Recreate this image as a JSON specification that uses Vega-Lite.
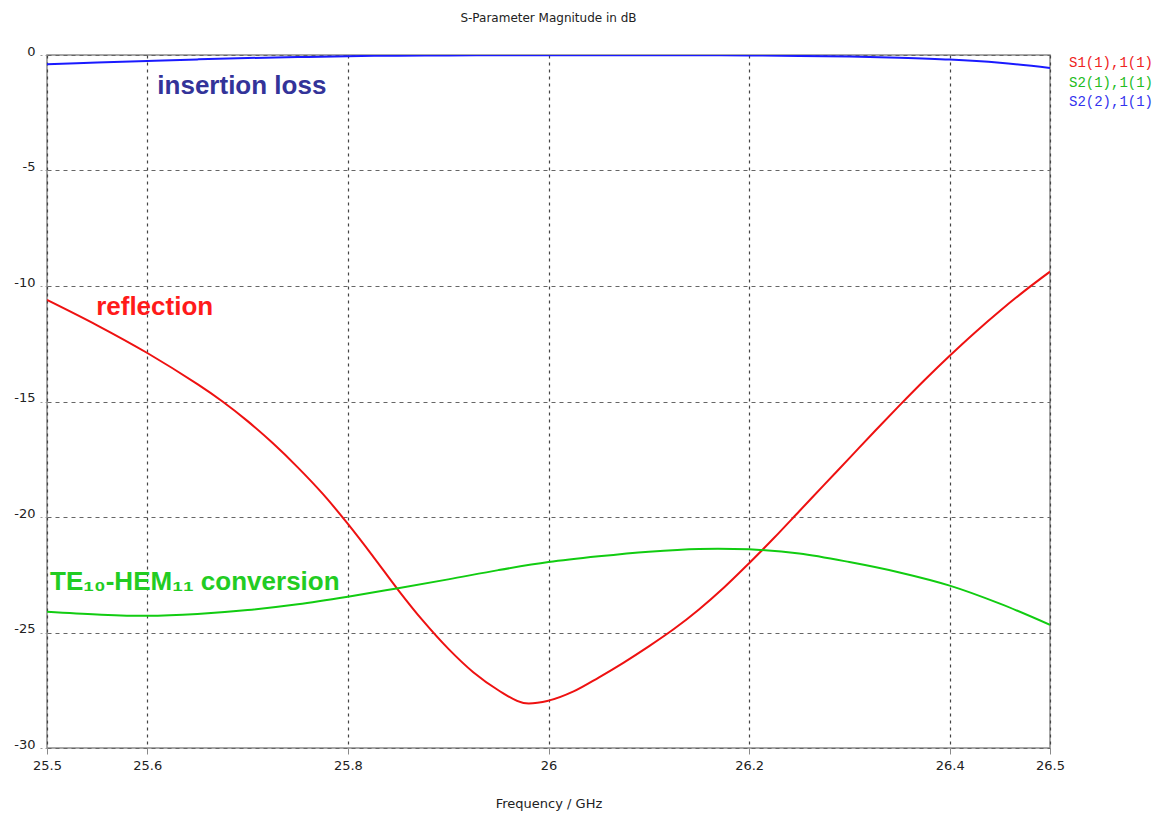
{
  "$schema": "https://vega.github.io/schema/vega-lite/v6.json",
  "autosize": "none",
  "width": 1003,
  "height": 693,
  "padding": {"left": 47, "top": 55, "right": 110, "bottom": 69},
  "background": "#ffffff",
  "title": {
    "text": "S-Parameter Magnitude in dB",
    "font": "DejaVu Sans",
    "fontSize": 12,
    "fontWeight": "normal",
    "color": "#222222",
    "anchor": "middle",
    "offset": 20
  },
  "config": {
    "view": {"stroke": "#8a8a8a", "strokeWidth": 1.5},
    "font": "DejaVu Sans"
  },
  "datasets": {
    "curves": [
      {"series": "S1(1),1(1)", "f": 25.5, "db": -10.6},
      {"series": "S1(1),1(1)", "f": 25.55, "db": -11.7},
      {"series": "S1(1),1(1)", "f": 25.6, "db": -12.9},
      {"series": "S1(1),1(1)", "f": 25.65, "db": -14.25},
      {"series": "S1(1),1(1)", "f": 25.675, "db": -15.0},
      {"series": "S1(1),1(1)", "f": 25.7, "db": -15.85},
      {"series": "S1(1),1(1)", "f": 25.725, "db": -16.8},
      {"series": "S1(1),1(1)", "f": 25.75, "db": -17.85},
      {"series": "S1(1),1(1)", "f": 25.775, "db": -19.0},
      {"series": "S1(1),1(1)", "f": 25.8, "db": -20.3},
      {"series": "S1(1),1(1)", "f": 25.825, "db": -21.7},
      {"series": "S1(1),1(1)", "f": 25.85, "db": -23.15},
      {"series": "S1(1),1(1)", "f": 25.875, "db": -24.5},
      {"series": "S1(1),1(1)", "f": 25.9, "db": -25.7},
      {"series": "S1(1),1(1)", "f": 25.925, "db": -26.72},
      {"series": "S1(1),1(1)", "f": 25.95, "db": -27.5},
      {"series": "S1(1),1(1)", "f": 25.975, "db": -28.05},
      {"series": "S1(1),1(1)", "f": 26.0, "db": -27.95},
      {"series": "S1(1),1(1)", "f": 26.025, "db": -27.55},
      {"series": "S1(1),1(1)", "f": 26.05, "db": -26.95},
      {"series": "S1(1),1(1)", "f": 26.075, "db": -26.3},
      {"series": "S1(1),1(1)", "f": 26.1, "db": -25.6},
      {"series": "S1(1),1(1)", "f": 26.125, "db": -24.85},
      {"series": "S1(1),1(1)", "f": 26.15, "db": -24.0},
      {"series": "S1(1),1(1)", "f": 26.175, "db": -23.05},
      {"series": "S1(1),1(1)", "f": 26.2, "db": -22.0},
      {"series": "S1(1),1(1)", "f": 26.225, "db": -20.9},
      {"series": "S1(1),1(1)", "f": 26.25, "db": -19.75},
      {"series": "S1(1),1(1)", "f": 26.275, "db": -18.6},
      {"series": "S1(1),1(1)", "f": 26.3, "db": -17.45},
      {"series": "S1(1),1(1)", "f": 26.325, "db": -16.3},
      {"series": "S1(1),1(1)", "f": 26.35, "db": -15.17},
      {"series": "S1(1),1(1)", "f": 26.375, "db": -14.07},
      {"series": "S1(1),1(1)", "f": 26.4, "db": -13.02},
      {"series": "S1(1),1(1)", "f": 26.425, "db": -12.02},
      {"series": "S1(1),1(1)", "f": 26.45, "db": -11.08},
      {"series": "S1(1),1(1)", "f": 26.475, "db": -10.2},
      {"series": "S1(1),1(1)", "f": 26.5, "db": -9.38},

      {"series": "S2(1),1(1)", "f": 25.5, "db": -24.1},
      {"series": "S2(1),1(1)", "f": 25.55, "db": -24.22},
      {"series": "S2(1),1(1)", "f": 25.6, "db": -24.28},
      {"series": "S2(1),1(1)", "f": 25.65, "db": -24.2},
      {"series": "S2(1),1(1)", "f": 25.7, "db": -24.03},
      {"series": "S2(1),1(1)", "f": 25.75, "db": -23.78},
      {"series": "S2(1),1(1)", "f": 25.8, "db": -23.45},
      {"series": "S2(1),1(1)", "f": 25.85, "db": -23.08},
      {"series": "S2(1),1(1)", "f": 25.9, "db": -22.7},
      {"series": "S2(1),1(1)", "f": 25.95, "db": -22.3},
      {"series": "S2(1),1(1)", "f": 26.0, "db": -21.95},
      {"series": "S2(1),1(1)", "f": 26.05, "db": -21.7},
      {"series": "S2(1),1(1)", "f": 26.1, "db": -21.5},
      {"series": "S2(1),1(1)", "f": 26.15, "db": -21.38},
      {"series": "S2(1),1(1)", "f": 26.2, "db": -21.4},
      {"series": "S2(1),1(1)", "f": 26.25, "db": -21.58},
      {"series": "S2(1),1(1)", "f": 26.3, "db": -21.95},
      {"series": "S2(1),1(1)", "f": 26.35, "db": -22.4},
      {"series": "S2(1),1(1)", "f": 26.4, "db": -22.97},
      {"series": "S2(1),1(1)", "f": 26.45, "db": -23.75},
      {"series": "S2(1),1(1)", "f": 26.5, "db": -24.67},

      {"series": "S2(2),1(1)", "f": 25.5, "db": -0.4},
      {"series": "S2(2),1(1)", "f": 25.55, "db": -0.33},
      {"series": "S2(2),1(1)", "f": 25.6, "db": -0.26},
      {"series": "S2(2),1(1)", "f": 25.65, "db": -0.19},
      {"series": "S2(2),1(1)", "f": 25.7, "db": -0.13},
      {"series": "S2(2),1(1)", "f": 25.75, "db": -0.09},
      {"series": "S2(2),1(1)", "f": 25.8, "db": -0.05},
      {"series": "S2(2),1(1)", "f": 25.85, "db": -0.03},
      {"series": "S2(2),1(1)", "f": 25.9, "db": -0.02},
      {"series": "S2(2),1(1)", "f": 25.95, "db": -0.01},
      {"series": "S2(2),1(1)", "f": 26.0, "db": -0.01},
      {"series": "S2(2),1(1)", "f": 26.05, "db": -0.01},
      {"series": "S2(2),1(1)", "f": 26.1, "db": -0.01},
      {"series": "S2(2),1(1)", "f": 26.15, "db": -0.01},
      {"series": "S2(2),1(1)", "f": 26.2, "db": -0.02},
      {"series": "S2(2),1(1)", "f": 26.25, "db": -0.04},
      {"series": "S2(2),1(1)", "f": 26.3, "db": -0.07},
      {"series": "S2(2),1(1)", "f": 26.35, "db": -0.12},
      {"series": "S2(2),1(1)", "f": 26.4, "db": -0.2},
      {"series": "S2(2),1(1)", "f": 26.45, "db": -0.34},
      {"series": "S2(2),1(1)", "f": 26.5, "db": -0.56}
    ],
    "notes": [
      {"series": "S2(2),1(1)", "label": "insertion loss", "f": 25.61, "db": -1.34},
      {"series": "S1(1),1(1)", "label": "reflection", "f": 25.549, "db": -10.9},
      {"series": "S2(1),1(1)", "label": "TE₁₀-HEM₁₁ conversion", "f": 25.503, "db": -22.8}
    ]
  },
  "encoding": {
    "x": {
      "field": "f",
      "type": "quantitative",
      "scale": {"domain": [25.5, 26.5], "nice": false, "zero": false},
      "axis": {
        "title": "Frequency / GHz",
        "titleFont": "DejaVu Sans",
        "titleFontSize": 13,
        "titleFontWeight": "normal",
        "titleColor": "#222222",
        "titlePadding": 25,
        "values": [25.5, 25.6, 25.8, 26, 26.2, 26.4, 26.5],
        "labelExpr": "toString(datum.value)",
        "labelFont": "DejaVu Sans",
        "labelFontSize": 13,
        "labelColor": "#222222",
        "labelPadding": 5,
        "labelFlush": false,
        "domain": false,
        "ticks": true,
        "tickSize": 6,
        "tickColor": "#8a8a8a",
        "grid": true,
        "gridColor": "#444444",
        "gridDash": [3, 4],
        "gridWidth": 1.2
      }
    },
    "y": {
      "field": "db",
      "type": "quantitative",
      "scale": {"domain": [-30, 0], "nice": false, "zero": false},
      "axis": {
        "title": null,
        "values": [0, -5, -10, -15, -20, -25, -30],
        "labelExpr": "toString(datum.value)",
        "labelFont": "DejaVu Sans",
        "labelFontSize": 13,
        "labelColor": "#222222",
        "labelBaseline": "alphabetic",
        "labelPadding": 4,
        "labelFlush": false,
        "domain": false,
        "ticks": true,
        "tickSize": 8,
        "tickColor": "#9a9a9a",
        "tickDash": [2, 3],
        "grid": true,
        "gridColor": "#666666",
        "gridDash": [4, 4],
        "gridWidth": 1.2
      }
    }
  },
  "layer": [
    {
      "data": {"name": "curves"},
      "mark": {"type": "line", "strokeWidth": 2, "interpolate": "catmull-rom", "clip": true},
      "encoding": {
        "color": {
          "field": "series",
          "type": "nominal",
          "scale": {
            "domain": ["S1(1),1(1)", "S2(1),1(1)", "S2(2),1(1)"],
            "range": ["#ee1111", "#11cc11", "#1a1aff"]
          },
          "legend": {
            "title": null,
            "orient": "none",
            "legendX": 1008,
            "legendY": 1,
            "padding": 0,
            "symbolType": "stroke",
            "symbolSize": 0,
            "symbolStrokeWidth": 0,
            "symbolOpacity": 0,
            "labelOffset": 0,
            "labelFont": "Liberation Mono",
            "labelFontSize": 14,
            "rowPadding": 5.5,
            "labelColor": {"expr": "datum.value === 'S1(1),1(1)' ? '#ee2222' : datum.value === 'S2(1),1(1)' ? '#22bb22' : '#3333ee'"}
          }
        }
      }
    },
    {
      "data": {"name": "notes"},
      "mark": {
        "type": "text",
        "align": "left",
        "baseline": "middle",
        "font": "Liberation Sans",
        "fontWeight": "bold",
        "fontSize": 26
      },
      "encoding": {
        "text": {"field": "label"},
        "color": {
          "condition": [
            {"test": "datum.series === 'S2(2),1(1)'", "value": "#333399"},
            {"test": "datum.series === 'S1(1),1(1)'", "value": "#ff1a1a"}
          ],
          "value": "#22cc22"
        }
      }
    }
  ]
}
